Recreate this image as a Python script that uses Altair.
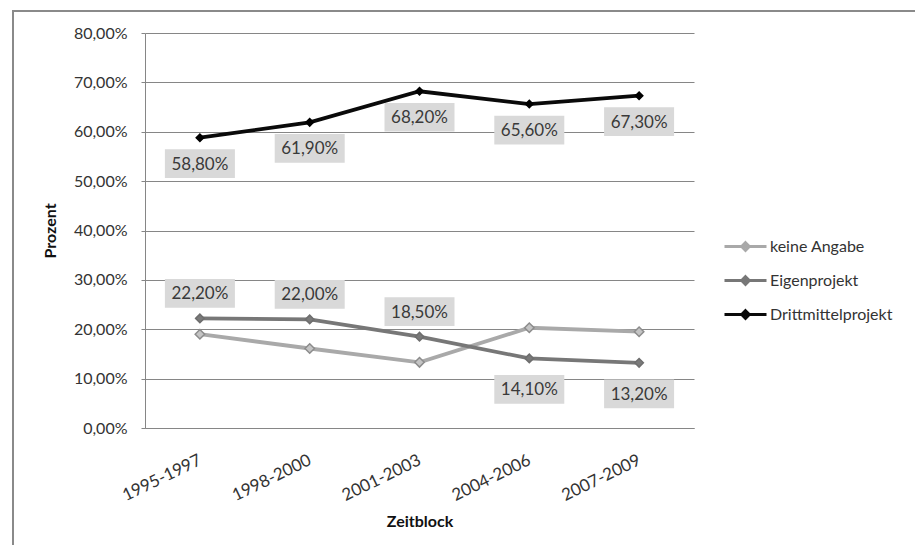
import altair as alt
import pandas as pd

# Anteile je Zeitblock (Prozent)
periods = ["1995-1997", "1998-2000", "2001-2003", "2004-2006", "2007-2009"]
keine_angabe = [19.0, 16.1, 13.3, 20.3, 19.5]
eigenprojekt = [22.2, 22.0, 18.5, 14.1, 13.2]
drittmittelprojekt = [58.8, 61.9, 68.2, 65.6, 67.3]
series = ["keine Angabe", "Eigenprojekt", "Drittmittelprojekt"]
y_ticks = [0, 10, 20, 30, 40, 50, 60, 70, 80]

# which data labels sit above their point (all others sit below)
labels_above = {"Eigenprojekt": periods[:3]}

rows = []
for name, vals in zip(series, [keine_angabe, eigenprojekt, drittmittelprojekt]):
    for p, v in zip(periods, vals):
        rows.append({
            "Zeitblock": p,
            "Serie": name,
            "Prozent": v,
            "Label": f"{v:.2f}".replace(".", ",") + "%",
            "Oben": p in labels_above.get(name, []),
        })
df = pd.DataFrame(rows)

FONT = "Lato"
GRID = "#868686"
line_colors = ["#a9a9a9", "#777777", "#0a0a0a"]
point_fill = ["#c4c4c4", "#7a7a7a", "#000000"]
point_stroke = ["#8c8c8c", "#6e6e6e", "#000000"]

x_enc = alt.X(
    "Zeitblock:N",
    sort=periods,
    scale=alt.Scale(type="point", padding=0.5),
    axis=alt.Axis(
        title="Zeitblock",
        labelAngle=-26,
        labelAlign="right",
        labelBaseline="middle",
        labelPadding=31,
        ticks=False,
        grid=False,
        domainColor=GRID,
        labelFont=FONT,
        labelFontSize=17,
        labelColor="#333333",
        titleFont=FONT,
        titleFontSize=16,
        titleFontWeight="bold",
        titleColor="#111111",
        titlePadding=10,
    ),
)
y_enc = alt.Y(
    "Prozent:Q",
    scale=alt.Scale(domain=[0, 80], nice=False),
    axis=alt.Axis(
        title="Prozent",
        values=y_ticks,
        labelExpr="replace(format(datum.value, '.2f'), '.', ',') + '%'",
        grid=True,
        gridColor=GRID,
        domainColor=GRID,
        tickColor=GRID,
        tickSize=4,
        labelPadding=14,
        labelFont=FONT,
        labelFontSize=16,
        labelColor="#333333",
        titleFont=FONT,
        titleFontSize=16,
        titleFontWeight="bold",
        titleColor="#111111",
        titlePadding=15,
    ),
)

base = alt.Chart(df)

lines = base.mark_line(strokeWidth=3.8).encode(
    x=x_enc,
    y=y_enc,
    color=alt.Color(
        "Serie:N",
        sort=series,
        scale=alt.Scale(domain=series, range=line_colors),
        legend=alt.Legend(
            title=None,
            orient="none",
            legendX=578,
            legendY=191,
            symbolType="M-1,0L1,0M0,-0.18L0.18,0L0,0.18L-0.18,0Z",
            symbolSize=1764,
            symbolStrokeWidth=3,
            labelFont=FONT,
            labelFontSize=16,
            labelColor="#333333",
            labelOffset=2,
            rowPadding=1,
        ),
    ),
    detail="Serie:N",
)

points = base.mark_point(shape="diamond", filled=True, strokeWidth=1.5, opacity=1).encode(
    x=alt.X("Zeitblock:N", sort=periods),
    y="Prozent:Q",
    fill=alt.Fill("Serie:N", scale=alt.Scale(domain=series, range=point_fill), legend=None),
    stroke=alt.Stroke("Serie:N", scale=alt.Scale(domain=series, range=point_stroke), legend=None),
    size=alt.Size("Serie:N", scale=alt.Scale(domain=series, range=[90, 55, 55]), legend=None),
)

# grey label boxes with the value text, above or below the point
BOX = "M-1,-0.41L1,-0.41L1,0.41L-1,0.41Z"
labelled = base.transform_filter("datum.Serie != 'keine Angabe'")


def label_layer(cond, dy):
    sel = labelled.transform_filter(cond)
    box = sel.mark_point(
        shape=BOX, filled=True, size=4900, fill="#d9d9d9", opacity=1, strokeWidth=0, yOffset=dy
    ).encode(x=alt.X("Zeitblock:N", sort=periods), y="Prozent:Q")
    txt = sel.mark_text(
        font=FONT, fontSize=17, color="#3a3a3a", dy=dy + 1
    ).encode(x=alt.X("Zeitblock:N", sort=periods), y="Prozent:Q", text="Label:N")
    return box + txt


above = label_layer("datum.Oben", -25)
below_dm = label_layer("!datum.Oben && datum.Serie == 'Drittmittelprojekt'", 26)
below_ep = label_layer("!datum.Oben && datum.Serie == 'Eigenprojekt'", 31)

frame = alt.Chart(pd.DataFrame({"f": [0]})).mark_rect(
    fill="transparent", stroke="#8a8a8a", strokeWidth=2
).encode(
    x=alt.value(-132), x2=alt.value(800), y=alt.value(-22), y2=alt.value(540)
)

chart = alt.layer(frame, lines, points, above, below_dm, below_ep).properties(
    width=549,
    height=395,
    padding={"left": 145, "top": 33, "right": 221, "bottom": 117},
    autosize=alt.AutoSizeParams(type="none"),
    background="white",
).resolve_scale(
    fill="independent", stroke="independent", size="independent"
).configure_view(stroke="transparent")

chart.save("out.html", embed_options={"renderer": "svg", "actions": False})
